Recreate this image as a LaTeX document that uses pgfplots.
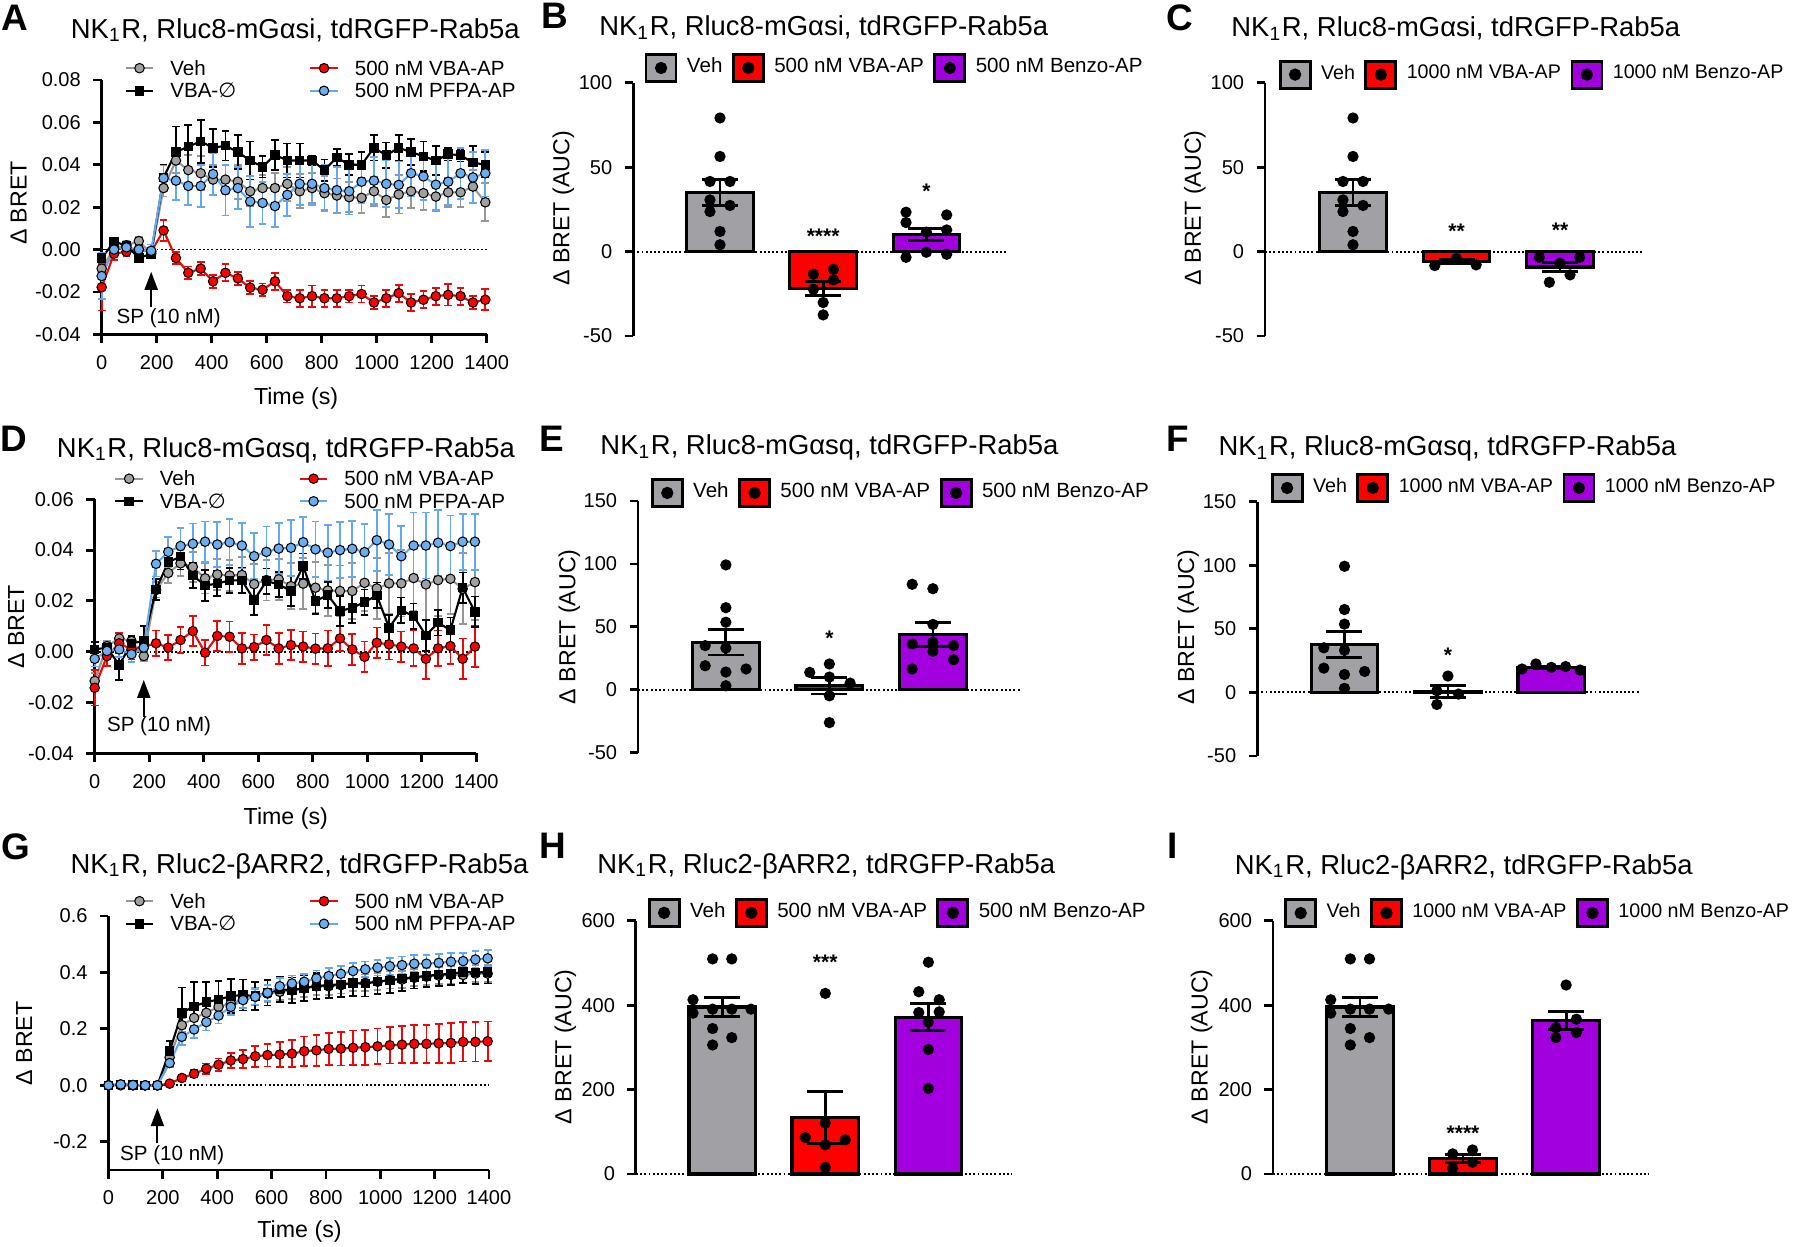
\documentclass[border=0pt]{standalone}
\usepackage{fontspec}
\setmainfont{Liberation Sans}
\newfontfamily\dejavu{DejaVu Sans}
\usepackage{pgfplots}
\usepackage{pgfplotstable}
\pgfplotsset{compat=1.18}
\usetikzlibrary{arrows.meta}

\definecolor{vehfill}{RGB}{160,160,160}
\definecolor{vehline}{RGB}{150,150,150}
\definecolor{vehbar}{RGB}{160,160,165}
\definecolor{redfill}{RGB}{255,0,0}
\definecolor{redline}{RGB}{235,10,10}
\definecolor{purbar}{RGB}{163,0,224}
\definecolor{bluefill}{RGB}{106,174,242}
\definecolor{blueline}{RGB}{100,168,240}

\newcommand\ttlfont{\fontsize{7.8}{9}\selectfont}
\newcommand\tickfont{\fontsize{5.7}{6.5}\selectfont}
\newcommand\legfont{\fontsize{5.85}{6.5}\selectfont}
\newcommand\legsmall{\fontsize{5.6}{6.5}\selectfont}
\newcommand\labfont{\fontsize{6.6}{7.5}\selectfont}
\newcommand\letfont{\fontsize{10.5}{12}\selectfont\bfseries}
\newcommand\starfont{\fontsize{6}{7}\selectfont\bfseries}
\newcommand\ttl[1]{NK\textsubscript{1}R, #1, tdRGFP-Rab5a}

\pgfplotsset{
  base/.style={scale only axis, clip=false, tick align=outside, major tick length=0.85mm,
    axis line style={line width=0.8pt}, tick style={line width=0.8pt, black},
    tick label style={font=\tickfont}, scaled y ticks=false, scaled x ticks=false,
    xlabel style={font=\labfont}, ylabel style={font=\labfont},
    /pgf/number format/assume math mode=true, /pgf/number format/1000 sep={},
    legend cell align=left,
    legend style={draw=none, fill=none, inner sep=0pt, font=\legfont}},
  linep/.style={base, axis x line*=bottom, axis y line*=left,
    xmin=0, xmax=1400, xtick={0,200,400,600,800,1000,1200,1400},
    xlabel={Time (s)}, ylabel={Δ BRET}, legend columns=2,
    legend style={nodes={inner xsep=1.6mm, inner ysep=0pt, text height=5.2pt, text depth=1.23pt},
      /tikz/every even column/.append style={column sep=5.7mm}},
    legend image code/.code={\draw[mark repeat=2,mark phase=2,##1] plot coordinates {(0mm,0mm) (1.375mm,0mm) (2.75mm,0mm)};}},
  barp/.style={base, axis x line=none, axis y line*=left, xtick=\empty,
    ylabel={Δ BRET (AUC)}, legend columns=-1,
    legend style={nodes={inner xsep=0.95mm, inner ysep=0pt}},
    legend image code/.code={\draw[##1, line width=0.8pt] (0mm,-1.35mm) rectangle (3mm,1.35mm); \fill[black] (1.5mm,0mm) circle (0.45mm);}},
  ser/.style n args={3}{color=#1, line width=0.6pt, mark=#2, mark size=1.35pt,
    mark options={fill=#3, draw=black, line width=0.3pt},
    /pgfplots/error bars/y dir=both, /pgfplots/error bars/y explicit,
    /pgfplots/error bars/error mark=|,
    /pgfplots/error bars/error bar style={line width=0.5pt, #1},
    /pgfplots/error bars/error mark options={line width=0.5pt, #1, mark size=1.1pt}},
  vbar/.style={ybar, bar width=0.645, bar shift=0pt, draw=black, line width=0.9pt, fill=#1},
  dots/.style={forget plot, only marks, mark=*, mark size=1.4pt, black},
  errb/.style={forget plot, draw=none, mark=none,
    /pgfplots/error bars/y dir=both, /pgfplots/error bars/y explicit,
    /pgfplots/error bars/error mark=|,
    /pgfplots/error bars/error bar style={draw=black, line width=0.8pt, solid},
    /pgfplots/error bars/error mark options={draw=black, line width=0.8pt, mark size=1.8mm}},
  zline/.style={forget plot, black, line width=0.55pt, dash pattern=on 0.55pt off 0.65pt, mark=none},
  prec/.style={yticklabel style={/pgf/number format/fixed, /pgf/number format/fixed zerofill, /pgf/number format/precision=#1}},
}

% time courses: t, Veh, VBA-AP, VBA-null, PFPA-AP (mean and SEM)
\pgfplotstableread{
t     veh     vehe   vba     vbae   nul     nule   pf      pfe
0    -0.0090 0.004 -0.0178 0.011 -0.0040 0.004 -0.0125 0.011
45    0.0005 0.002 -0.0020 0.003  0.0036 0.002  0.0000 0.003
90    0.0020 0.002 -0.0010 0.002  0.0020 0.002  0.0010 0.003
135   0.0040 0.002  0.0000 0.002 -0.0040 0.002  0.0000 0.003
180  -0.0020 0.002 -0.0010 0.002 -0.0020 0.002 -0.0006 0.003
225   0.0290 0.004  0.0090 0.005  0.0340 0.006  0.0337 0.006
270   0.0420 0.006 -0.0040 0.003  0.0460 0.012  0.0325 0.009
315   0.0375 0.007 -0.0110 0.003  0.0486 0.010  0.0300 0.009
360   0.0360 0.008 -0.0090 0.003  0.0510 0.010  0.0300 0.010
405   0.0330 0.007 -0.0150 0.003  0.0480 0.009  0.0356 0.010
450   0.0330 0.007 -0.0110 0.004  0.0490 0.007  0.0280 0.012
495   0.0320 0.008 -0.0136 0.003  0.0460 0.008  0.0290 0.010
540   0.0275 0.007 -0.0180 0.003  0.0420 0.009  0.0227 0.012
585   0.0290 0.006 -0.0190 0.003  0.0390 0.005  0.0220 0.010
630   0.0290 0.007 -0.0150 0.004  0.0447 0.007  0.0205 0.010
675   0.0310 0.008 -0.0220 0.003  0.0420 0.008  0.0258 0.010
720   0.0275 0.008 -0.0230 0.004  0.0420 0.008  0.0310 0.010
765   0.0290 0.007 -0.0220 0.005  0.0420 0.002  0.0310 0.010
810   0.0266 0.008 -0.0230 0.004  0.0375 0.005  0.0290 0.011
855   0.0255 0.008 -0.0230 0.004  0.0434 0.004  0.0280 0.011
900   0.0247 0.007 -0.0220 0.003  0.0400 0.005  0.0275 0.011
945   0.0244 0.007 -0.0210 0.004  0.0400 0.006  0.0320 0.010
990   0.0275 0.007 -0.0250 0.003  0.0480 0.006  0.0325 0.011
1035  0.0234 0.008 -0.0230 0.004  0.0445 0.006  0.0310 0.011
1080  0.0260 0.009 -0.0206 0.004  0.0480 0.006  0.0305 0.011
1125  0.0275 0.008 -0.0250 0.004  0.0460 0.006  0.0360 0.011
1170  0.0266 0.008 -0.0237 0.004  0.0440 0.007  0.0345 0.011
1215  0.0250 0.007 -0.0220 0.004  0.0420 0.007  0.0306 0.012
1260  0.0270 0.007 -0.0214 0.005  0.0450 0.003  0.0320 0.011
1305  0.0270 0.007 -0.0220 0.004  0.0445 0.003  0.0360 0.012
1350  0.0297 0.008 -0.0250 0.003  0.0410 0.008  0.0340 0.012
1395  0.0223 0.009 -0.0237 0.005  0.0400 0.006  0.0360 0.011
}\dataA

\pgfplotstableread{
t     veh     vehe   vba     vbae   nul     nule   pf      pfe
0    -0.0115 0.003 -0.0142 0.007  0.0009 0.003 -0.0028 0.003
45    0.0022 0.002 -0.0017 0.004  0.0016 0.002  0.0003 0.003
90    0.0052 0.002  0.0033 0.004 -0.0052 0.006  0.0009 0.003
135   0.0042 0.002  0.0009 0.004  0.0033 0.003 -0.0010 0.003
180  -0.0017 0.002  0.0020 0.004  0.0042 0.006  0.0016 0.003
225   0.0243 0.003  0.0033 0.005  0.0245 0.004  0.0346 0.005
270   0.0310 0.004  0.0016 0.005  0.0353 0.005  0.0393 0.006
315   0.0348 0.005  0.0046 0.005  0.0374 0.005  0.0416 0.007
360   0.0334 0.006  0.0081 0.006  0.0300 0.005  0.0425 0.008
405   0.0289 0.006 -0.0004 0.005  0.0261 0.006  0.0433 0.008
450   0.0304 0.006  0.0062 0.006  0.0268 0.005  0.0422 0.009
495   0.0300 0.006  0.0059 0.006  0.0281 0.005  0.0431 0.009
540   0.0302 0.007  0.0013 0.006  0.0281 0.005  0.0418 0.009
585   0.0266 0.008  0.0018 0.005  0.0203 0.006  0.0376 0.009
630   0.0282 0.008  0.0046 0.006  0.0278 0.005  0.0393 0.010
675   0.0285 0.008  0.0013 0.006  0.0265 0.005  0.0406 0.010
720   0.0258 0.009  0.0026 0.006  0.0239 0.006  0.0409 0.011
765   0.0268 0.010  0.0020 0.006  0.0337 0.005  0.0431 0.010
810   0.0252 0.010  0.0012 0.006  0.0199 0.005  0.0403 0.011
855   0.0241 0.010  0.0013 0.007  0.0223 0.005  0.0390 0.011
900   0.0239 0.010  0.0052 0.005  0.0160 0.006  0.0400 0.011
945   0.0239 0.011  0.0009 0.006  0.0173 0.006  0.0405 0.011
990   0.0271 0.011 -0.0020 0.006  0.0195 0.005  0.0392 0.011
1035  0.0249 0.012  0.0035 0.006  0.0222 0.005  0.0439 0.012
1080  0.0269 0.012  0.0029 0.006  0.0094 0.005  0.0422 0.012
1125  0.0269 0.013  0.0020 0.006  0.0163 0.005  0.0376 0.012
1170  0.0290 0.013  0.0013 0.007  0.0140 0.005  0.0418 0.013
1215  0.0265 0.014 -0.0028 0.008  0.0064 0.006  0.0418 0.013
1260  0.0282 0.014  0.0013 0.007  0.0114 0.005  0.0429 0.013
1305  0.0287 0.014  0.0022 0.007  0.0085 0.005  0.0416 0.012
1350  0.0248 0.014 -0.0028 0.008  0.0252 0.006  0.0433 0.011
1395  0.0274 0.015  0.0020 0.008  0.0157 0.006  0.0433 0.011
}\dataD

\pgfplotstableread{
t     veh    vehe   vba    vbae   nul    nule   pf     pfe
0     0.000  0.003  0.000  0.002  0.000  0.003  0.000  0.003
45    0.003  0.003  0.000  0.002  0.003  0.003  0.003  0.003
90    0.001  0.003  0.000  0.002  0.001  0.003  0.001  0.003
135   0.000  0.003  0.000  0.002  0.000  0.003  0.000  0.003
180   0.000  0.003  0.000  0.002  0.000  0.003  0.000  0.003
225   0.099  0.012  0.006  0.004  0.121  0.035  0.079  0.015
270   0.213  0.025  0.026  0.008  0.257  0.090  0.172  0.030
315   0.239  0.030  0.041  0.012  0.280  0.085  0.198  0.030
360   0.257  0.030  0.059  0.018  0.295  0.070  0.224  0.030
405   0.278  0.030  0.073  0.022  0.304  0.065  0.247  0.028
450   0.290  0.030  0.088  0.027  0.316  0.060  0.278  0.028
495   0.304  0.030  0.093  0.032  0.320  0.055  0.302  0.028
540   0.314  0.030  0.103  0.037  0.316  0.050  0.314  0.028
585   0.325  0.030  0.107  0.040  0.328  0.045  0.328  0.028
630   0.331  0.030  0.109  0.045  0.340  0.045  0.351  0.028
675   0.336  0.030  0.112  0.048  0.337  0.045  0.361  0.028
720   0.343  0.030  0.121  0.052  0.345  0.045  0.367  0.028
765   0.351  0.030  0.124  0.055  0.352  0.045  0.379  0.028
810   0.351  0.030  0.129  0.057  0.355  0.045  0.387  0.028
855   0.355  0.030  0.130  0.060  0.358  0.045  0.395  0.028
900   0.363  0.030  0.133  0.061  0.362  0.045  0.405  0.028
945   0.363  0.030  0.135  0.062  0.360  0.045  0.411  0.028
990   0.367  0.030  0.138  0.063  0.368  0.045  0.417  0.028
1035  0.373  0.030  0.142  0.065  0.372  0.045  0.422  0.030
1080  0.375  0.030  0.144  0.066  0.378  0.045  0.426  0.030
1125  0.381  0.030  0.147  0.067  0.383  0.040  0.431  0.030
1170  0.385  0.030  0.147  0.068  0.388  0.040  0.431  0.030
1215  0.389  0.030  0.149  0.069  0.392  0.040  0.434  0.030
1260  0.391  0.030  0.150  0.070  0.395  0.040  0.438  0.030
1305  0.391  0.030  0.154  0.070  0.402  0.040  0.440  0.030
1350  0.396  0.030  0.154  0.070  0.400  0.040  0.446  0.030
1395  0.396  0.030  0.156  0.070  0.401  0.040  0.450  0.030
}\dataG

\begin{document}
\begin{tikzpicture}
\useasboundingbox (0,0) rectangle (180mm,124.6mm);

% ---------- A ----------
\begin{axis}[linep, at={(10.17mm,91.17mm)}, anchor=south west, width=38.5mm, height=25.43mm,
  ymin=-0.04, ymax=0.08, ytick={-0.04,-0.02,0,0.02,0.04,0.06,0.08}, prec=2,
  xlabel style={at={(axis description cs:0.505,-0.252)}, anchor=center},
  ylabel style={at={(axis description cs:-0.216,0.516)}, anchor=center},
  legend style={at={(axis description cs:0.058,1.002)}, anchor=west}]
\addplot[zline] coordinates {(0,0) (1400,0)};
\addplot[ser={vehline}{*}{vehfill}] table[x=t,y=veh,y error=vehe] {\dataA};
\addlegendentry{Veh}
\addplot[ser={redline}{*}{redfill}] table[x=t,y=vba,y error=vbae] {\dataA};
\addlegendentry{500 nM VBA-AP}
\addplot[ser={black}{square*}{black}, mark size=1.2pt] table[x=t,y=nul,y error=nule] {\dataA};
\addlegendentry{VBA-{\dejavu ∅}}
\addplot[ser={blueline}{*}{bluefill}] table[x=t,y=pf,y error=pfe] {\dataA};
\addlegendentry{500 nM PFPA-AP}
\draw[line width=0.6pt, -{Triangle[length=1.8mm,width=1.3mm]}] (axis cs:180,-0.0269) -- (axis cs:180,-0.0105);
\node[font=\legfont] at (axis cs:243.6,-0.0325) {SP (10 nM)};
\end{axis}

% ---------- D ----------
\begin{axis}[linep, at={(9.47mm,49.27mm)}, anchor=south west, width=38.16mm, height=25.4mm,
  ymin=-0.04, ymax=0.06, ytick={-0.04,-0.02,0,0.02,0.04,0.06}, prec=2,
  xlabel style={at={(axis description cs:0.5008,-0.256)}, anchor=center},
  ylabel style={at={(axis description cs:-0.2057,0.498)}, anchor=center},
  legend style={at={(axis description cs:0.0495,1.0366)}, anchor=west}]
\addplot[zline] coordinates {(0,0) (1400,0)};
\addplot[ser={vehline}{*}{vehfill}] table[x=t,y=veh,y error=vehe] {\dataD};
\addlegendentry{Veh}
\addplot[ser={redline}{*}{redfill}] table[x=t,y=vba,y error=vbae] {\dataD};
\addlegendentry{500 nM VBA-AP}
\addplot[ser={black}{square*}{black}, mark size=1.2pt] table[x=t,y=nul,y error=nule] {\dataD};
\addlegendentry{VBA-{\dejavu ∅}}
\addplot[ser={blueline}{*}{bluefill}] table[x=t,y=pf,y error=pfe] {\dataD};
\addlegendentry{500 nM PFPA-AP}
\draw[line width=0.6pt, -{Triangle[length=1.8mm,width=1.3mm]}] (axis cs:180,-0.0256) -- (axis cs:180,-0.0111);
\node[font=\legfont] at (axis cs:236.3,-0.0295) {SP (10 nM)};
\end{axis}

% ---------- G ----------
\begin{axis}[linep, at={(10.85mm,7.6mm)}, anchor=south west, width=38.05mm, height=25.4mm,
  ymin=-0.3, ymax=0.6, ytick={-0.2,0,0.2,0.4,0.6}, prec=1,
  xlabel style={at={(axis description cs:0.502,-0.243)}, anchor=center},
  ylabel style={at={(axis description cs:-0.222,0.499)}, anchor=center},
  legend style={at={(axis description cs:0.0407,1.0138)}, anchor=west}]
\addplot[zline] coordinates {(0,0) (1400,0)};
\addplot[ser={vehline}{*}{vehfill}] table[x=t,y=veh,y error=vehe] {\dataG};
\addlegendentry{Veh}
\addplot[ser={redline}{*}{redfill}] table[x=t,y=vba,y error=vbae] {\dataG};
\addlegendentry{500 nM VBA-AP}
\addplot[ser={black}{square*}{black}, mark size=1.2pt] table[x=t,y=nul,y error=nule] {\dataG};
\addlegendentry{VBA-{\dejavu ∅}}
\addplot[ser={blueline}{*}{bluefill}] table[x=t,y=pf,y error=pfe] {\dataG};
\addlegendentry{500 nM PFPA-AP}
\draw[line width=0.6pt, -{Triangle[length=1.8mm,width=1.3mm]}] (axis cs:180,-0.205) -- (axis cs:180,-0.081);
\node[font=\legfont] at (axis cs:234.4,-0.247) {SP (10 nM)};
\end{axis}

% ---------- B ----------
\begin{axis}[barp, at={(63.31mm,91.0mm)}, anchor=south west, width=37.52mm, height=25.33mm,
  xmin=-0.842, xmax=2.794, ymin=-50, ymax=100, ytick={-50,0,50,100},
  ylabel style={at={(axis description cs:-0.186,0.504)}, anchor=center},
  legend style={at={(axis description cs:0.029,1.058)}, anchor=west}]
\addplot[zline] coordinates {(-0.842,0) (2.794,0)};
\addplot[vbar=vehbar] coordinates {(0,35.1)};
\addlegendentry{Veh}
\addplot[vbar=redfill] coordinates {(1,-21.8)};
\addlegendentry{500 nM VBA-AP}
\addplot[vbar=purbar] coordinates {(2,10.1)};
\addlegendentry{500 nM Benzo-AP}
\addplot[dots] coordinates {(0,79.1) (0,56.3) (-0.097,41.5) (0.097,41.5) (-0.097,30.6) (0.097,27.3) (-0.097,23.7) (0,11.9) (0,4.0)};
\addplot[dots] coordinates {(0.906,-13.4) (1.1,-10.5) (0.906,-22.3) (1.1,-16.8) (1,-30.2) (1,-37.5)};
\addplot[dots] coordinates {(1.803,23.3) (2.197,21.7) (1.803,17.2) (2.197,12.8) (2,11.5) (1.803,-3.4) (2,-0.4) (2.197,-1.6)};
\addplot[errb] coordinates {(0,35.1) +- (0,7.6) (1,-21.8) +- (0,4.3) (2,10.1) +- (0,3.7)};
\node[font=\starfont] at (axis cs:1,8.8) {****};
\node[font=\starfont] at (axis cs:2,35.5) {*};
\end{axis}

% ---------- C ----------
\begin{axis}[barp, at={(126.5mm,91.0mm)}, anchor=south west, width=37.67mm, height=25.33mm,
  xmin=-0.850, xmax=2.789, ymin=-50, ymax=100, ytick={-50,0,50,100},
  ylabel style={at={(axis description cs:-0.186,0.506)}, anchor=center},
  legend style={at={(axis description cs:0.0345,1.032)}, anchor=west, font=\legsmall}]
\addplot[zline] coordinates {(-0.850,0) (2.789,0)};
\addplot[vbar=vehbar] coordinates {(0,35.1)};
\addlegendentry{Veh}
\addplot[vbar=redfill] coordinates {(1,-6.1)};
\addlegendentry{1000 nM VBA-AP}
\addplot[vbar=purbar] coordinates {(2,-9.1)};
\addlegendentry{1000 nM Benzo-AP}
\addplot[dots] coordinates {(0,79.1) (0,56.3) (-0.097,41.5) (0.097,41.5) (-0.097,30.6) (0.097,27.3) (-0.097,23.7) (0,11.9) (0,4.0)};
\addplot[dots] coordinates {(0.79,-8.3) (1.19,-7.9) (1,-4.2)};
\addplot[dots] coordinates {(1.8,-3.4) (2.19,-3.4) (2,-6.9) (1.897,-18.2) (2.097,-13.8)};
\addplot[errb] coordinates {(0,35.1) +- (0,7.6) (1,-6.1) +- (0,1.3) (2,-9.1) +- (0,2.8)};
\node[font=\starfont] at (axis cs:1,11.8) {**};
\node[font=\starfont] at (axis cs:2,12.8) {**};
\end{axis}

% ---------- E ----------
\begin{axis}[barp, at={(63.8mm,49.33mm)}, anchor=south west, width=38.28mm, height=25.17mm,
  xmin=-0.849, xmax=2.849, ymin=-50, ymax=150, ytick={-50,0,50,100,150},
  ylabel style={at={(axis description cs:-0.179,0.5006)}, anchor=center},
  legend style={at={(axis description cs:0.0319,1.032)}, anchor=west}]
\addplot[zline] coordinates {(-0.849,0) (2.849,0)};
\addplot[vbar=vehbar] coordinates {(0,37.7)};
\addlegendentry{Veh}
\addplot[vbar=redfill] coordinates {(1,3.1)};
\addlegendentry{500 nM VBA-AP}
\addplot[vbar=purbar] coordinates {(2,44.0)};
\addlegendentry{500 nM Benzo-AP}
\addplot[dots] coordinates {(0,99.2) (0,65.2) (0,53.7) (-0.2,35.1) (0,33.2) (-0.2,19.1) (0.195,16.5) (0,14.1) (0,3.2)};
\addplot[dots] coordinates {(1,20.5) (0.81,13.8) (1,10.1) (1.2,5.3) (1,-4.8) (1,-26.1)};
\addplot[dots] coordinates {(1.8,83.8) (2,80.3) (2,51.9) (1.8,36.4) (2,37.8) (2.2,35.1) (2,30.6) (1.8,16.5) (2.2,23.9)};
\addplot[errb] coordinates {(0,37.7) +- (0,10.0) (1,3.1) +- (0,6.5) (2,44.0) +- (0,9.7)};
\node[font=\starfont] at (axis cs:1,40.9) {*};
\end{axis}

% ---------- F ----------
\begin{axis}[barp, at={(125.71mm,49.0mm)}, anchor=south west, width=38.16mm, height=25.43mm,
  xmin=-0.845, xmax=2.845, ymin=-50, ymax=150, ytick={-50,0,50,100,150},
  ylabel style={at={(axis description cs:-0.181,0.507)}, anchor=center},
  legend style={at={(axis description cs:0.0338,1.054)}, anchor=west, font=\legsmall}]
\addplot[zline] coordinates {(-0.845,0) (2.845,0)};
\addplot[vbar=vehbar] coordinates {(0,37.7)};
\addlegendentry{Veh}
\addplot[vbar=redfill] coordinates {(1,0.85)};
\addlegendentry{1000 nM VBA-AP}
\addplot[vbar=purbar] coordinates {(2,19.7)};
\addlegendentry{1000 nM Benzo-AP}
\addplot[dots] coordinates {(0,99.2) (0,65.2) (0,53.7) (-0.2,35.1) (0,33.2) (-0.2,19.1) (0.195,16.5) (0,14.1) (0,3.2)};
\addplot[dots] coordinates {(1,12.9) (0.893,1.3) (1.103,-1.3) (0.893,-9.5)};
\addplot[dots] coordinates {(1.717,18.4) (1.851,22.4) (2,19.7) (2.138,20.3) (2.279,17.6)};
\addplot[errb] coordinates {(0,37.7) +- (0,10.0) (1,0.85) +- (0,4.6) (2,19.7) +- (0,0.9)};
\node[font=\starfont] at (axis cs:1,29.4) {*};
\end{axis}

% ---------- H ----------
\begin{axis}[barp, at={(63.59mm,7.2mm)}, anchor=south west, width=37.55mm, height=25.33mm,
  xmin=-0.837, xmax=2.805, ymin=0, ymax=600, ytick={0,200,400,600},
  ylabel style={at={(axis description cs:-0.188,0.5026)}, anchor=center},
  legend style={at={(axis description cs:0.0296,1.031)}, anchor=west}]
\addplot[zline] coordinates {(-0.837,0) (2.805,0)};
\addplot[vbar=vehbar] coordinates {(0,395.7)};
\addlegendentry{Veh}
\addplot[vbar=redfill] coordinates {(1,133.5)};
\addlegendentry{500 nM VBA-AP}
\addplot[vbar=purbar] coordinates {(2,371.0)};
\addlegendentry{500 nM Benzo-AP}
\addplot[dots] coordinates {(-0.093,509.5) (0.093,509.5) (-0.283,412.7) (-0.093,390.5) (0.093,390.5) (0.279,390.5) (-0.283,381) (-0.093,344.5) (0.093,323) (-0.093,305.6)};
\addplot[dots] coordinates {(1,427.8) (1,120.6) (0.806,86.5) (1.194,81) (1,69) (1,15.9)};
\addplot[dots] coordinates {(2,501.6) (1.907,431.8) (2.105,412.7) (1.907,382.5) (2.105,384) (2,360) (2,295) (2,202.4)};
\addplot[errb] coordinates {(0,395.7) +- (0,21.7) (1,133.5) +- (0,61) (2,371.0) +- (0,32)};
\node[font=\starfont] at (axis cs:1,500.5) {***};
\end{axis}

% ---------- I ----------
\begin{axis}[barp, at={(127.29mm,7.2mm)}, anchor=south west, width=37.57mm, height=25.33mm,
  xmin=-0.844, xmax=2.8, ymin=0, ymax=600, ytick={0,200,400,600},
  ylabel style={at={(axis description cs:-0.1895,0.5026)}, anchor=center},
  legend style={at={(axis description cs:0.0285,1.030)}, anchor=west, font=\legsmall}]
\addplot[zline] coordinates {(-0.844,0) (2.8,0)};
\addplot[vbar=vehbar] coordinates {(0,395.7)};
\addlegendentry{Veh}
\addplot[vbar=redfill] coordinates {(1,36.5)};
\addlegendentry{1000 nM VBA-AP}
\addplot[vbar=purbar] coordinates {(2,363.8)};
\addlegendentry{1000 nM Benzo-AP}
\addplot[dots] coordinates {(-0.093,509.5) (0.093,509.5) (-0.283,412.7) (-0.093,390.5) (0.093,390.5) (0.279,390.5) (-0.283,381) (-0.093,344.5) (0.093,323) (-0.093,305.6)};
\addplot[dots] coordinates {(0.9,47.6) (1.092,57) (1.092,27.8) (0.9,13.5)};
\addplot[dots] coordinates {(2,447.6) (2.1,366.7) (1.9,346.8) (2.1,335) (1.9,323)};
\addplot[errb] coordinates {(0,395.7) +- (0,21.7) (1,36.5) +- (0,10) (2,363.8) +- (0,21)};
\node[font=\starfont] at (axis cs:1,96.4) {****};
\end{axis}

% ---------- titles and panel letters ----------
\node[font=\ttlfont, anchor=base] at (29.53mm,120.77mm) {\ttl{Rluc8-mGαsi}};
\node[font=\ttlfont, anchor=base] at (82.37mm,121.0mm) {\ttl{Rluc8-mGαsi}};
\node[font=\ttlfont, anchor=base] at (145.58mm,120.93mm) {\ttl{Rluc8-mGαsi}};
\node[font=\ttlfont, anchor=base] at (28.59mm,78.87mm) {\ttl{Rluc8-mGαsq}};
\node[font=\ttlfont, anchor=base] at (82.94mm,79.1mm) {\ttl{Rluc8-mGαsq}};
\node[font=\ttlfont, anchor=base] at (144.75mm,79.0mm) {\ttl{Rluc8-mGαsq}};
\node[font=\ttlfont, anchor=base] at (29.96mm,37.27mm) {\ttl{Rluc2-βARR2}};
\node[font=\ttlfont, anchor=base] at (82.63mm,37.27mm) {\ttl{Rluc2-βARR2}};
\node[font=\ttlfont, anchor=base] at (146.37mm,37.2mm) {\ttl{Rluc2-βARR2}};

\node[font=\letfont] at (1.46mm,122.85mm) {A};
\node[font=\letfont] at (55.47mm,123.0mm) {B};
\node[font=\letfont] at (118.0mm,122.85mm) {C};
\node[font=\letfont] at (1.38mm,80.7mm) {D};
\node[font=\letfont] at (55.2mm,80.7mm) {E};
\node[font=\letfont] at (117.8mm,80.7mm) {F};
\node[font=\letfont] at (1.55mm,39.9mm) {G};
\node[font=\letfont] at (55.3mm,40.0mm) {H};
\node[font=\letfont] at (117.26mm,40.0mm) {I};
\end{tikzpicture}
\end{document}
